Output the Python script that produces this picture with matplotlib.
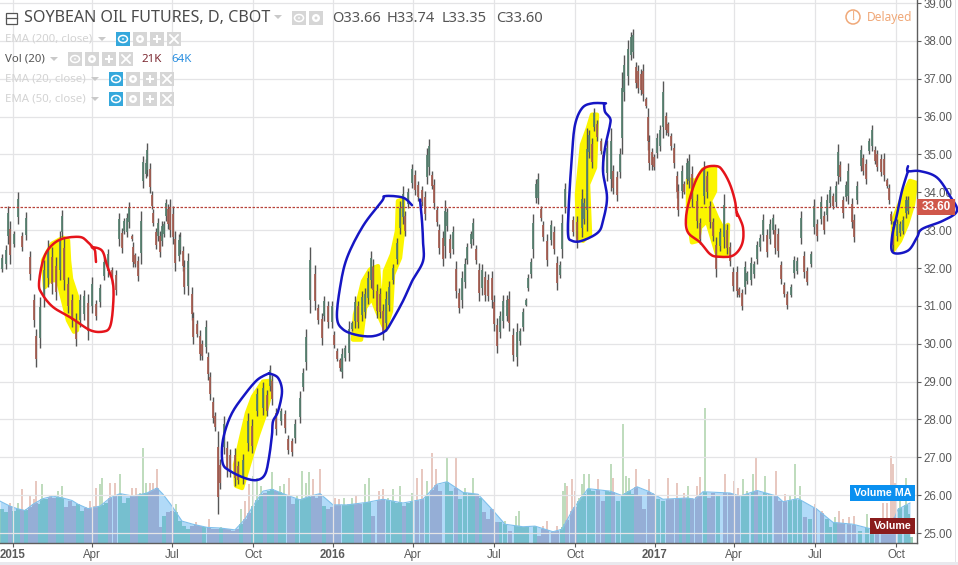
import numpy as np
import matplotlib
matplotlib.use("Agg")
import matplotlib.pyplot as plt
from matplotlib.patches import Rectangle, Circle, Polygon

W, H = 958, 565
AX_W, AX_H = 917, 543

# time axis: arbitrary session clock, quarter ticks
tick_t = [13, 92, 172, 253, 333, 413, 494, 575, 655, 734, 815, 896]
tick_labels = ["2015", "Apr", "Jul", "Oct", "2016", "Apr", "Jul", "Oct", "2017", "Apr", "Jul", "Oct"]
price_ticks = [25, 26, 27, 28, 29, 30, 31, 32, 33, 34, 35, 36, 37, 38, 39]
last_price = 33.60

bar_t = [
 2,6,8,10,14,18,22,26,30,34,36,40,
 44,48,52,56,60,62,64,68,72,76,80,84,
 88,92,96,100,104,108,112,116,119,122,124,127,
 129,132,133,135,138,141,143,146,147,150,152,153,
 156,158,160,162,164,166,168,170,173,175,179,180,
 183,184,188,192,193,197,200,202,206,208,210,213,
 215,218,220,224,227,230,235,238,243,248,252,257,
 263,267,270,272,276,281,285,288,292,295,300,303,
 306,310,315,318,322,324,328,332,334,337,340,342,
 345,349,352,355,358,362,365,368,371,373,377,380,
 383,386,389,393,397,400,403,405,408,412,415,418,
 422,425,427,429,432,434,437,439,443,445,447,450,
 453,456,459,462,465,467,471,473,476,479,482,485,
 488,492,494,497,500,503,507,509,513,517,520,523,
 526,528,531,533,536,538,541,543,547,551,554,557,
 560,562,565,568,573,577,582,584,587,589,592,594,
 597,601,603,607,611,613,617,620,622,624,628,631,
 633,636,638,641,643,646,648,649,652,654,657,660,
 663,666,668,671,674,677,678,682,684,687,689,692,
 697,700,704,707,710,713,716,720,724,727,730,733,
 737,739,742,745,747,751,754,757,760,763,767,770,
 773,775,778,781,784,787,791,794,797,801,804,807,
 811,814,817,821,824,827,830,833,836,838,840,843,
 846,848,852,854,857,861,863,866,869,872,875,877,
 881,884,887,889,891,893,897,900,903,906,908]
bar_high = [
 32.36,32.6,33.65,33.25,32.99,34.0,32.95,33.47,32.46,31.32,30.4,31.24,
 32.2,32.73,32.55,32.29,32.99,33.52,32.82,31.76,31.32,30.8,31.32,31.41,
 31.32,31.76,31.15,31.59,32.29,32.51,32.03,31.94,33.46,33.07,33.33,33.46,
 33.75,32.89,32.68,32.41,32.32,33.51,34.96,34.87,35.29,34.78,34.04,33.55,
 33.07,33.32,32.98,33.25,33.25,33.83,33.68,33.82,33.64,32.98,32.89,32.94,
 32.59,32.2,32.4,31.5,30.84,30.62,30.36,30.1,30.62,29.79,29.26,28.6,
 28.2,27.7,26.95,28.08,27.43,27.21,27.25,26.9,27.08,28.17,28.0,28.83,
 29.0,28.78,29.45,29.17,28.3,28.3,28.26,27.6,27.52,28.0,28.74,29.35,
 30.4,32.55,32.07,31.06,30.82,31.26,31.13,31.13,30.33,29.89,29.63,29.89,
 29.98,30.6,30.6,31.26,31.13,31.39,31.48,31.92,32.45,32.23,31.57,31.48,
 31.04,31.39,31.65,32.1,32.8,33.77,34.16,33.5,34.12,34.74,34.6,34.3,
 34.16,34.03,35.18,35.42,34.56,34.34,33.64,33.15,32.98,33.81,33.59,32.89,
 33.11,32.18,31.48,31.92,32.27,32.67,32.98,33.33,32.62,32.14,32.1,31.92,
 31.83,31.92,31.3,30.69,30.86,31.3,31.3,31.39,30.42,30.55,30.42,30.95,
 31.21,31.83,32.27,33.42,34.34,34.52,33.64,33.24,32.89,33.28,33.11,32.32,
 32.18,33.42,34.25,33.59,33.38,33.38,34.08,33.86,35.7,35.65,35.43,36.22,
 35.92,35.43,35.08,35.39,35.7,34.73,34.56,35.17,37.19,37.62,38.02,38.24,
 38.32,37.45,37.36,37.27,37.4,36.53,36.22,35.52,35.17,35.0,35.57,35.78,
 36.94,36.13,35.87,35.57,35.3,34.56,34.21,34.73,34.3,34.91,35.0,34.69,
 33.95,33.33,34.82,34.56,33.77,33.33,32.81,33.07,33.95,33.16,32.68,32.02,
 32.06,31.49,31.45,32.19,31.93,32.28,32.19,32.72,32.89,33.42,33.03,33.29,
 33.42,33.16,33.07,32.19,31.62,31.4,31.58,32.32,32.28,33.51,32.46,32.02,
 32.46,33.82,33.29,33.9,33.51,33.95,34.17,33.99,34.3,35.28,34.82,33.9,
 34.3,34.78,33.86,33.42,34.3,35.26,35.0,34.87,35.44,35.77,35.22,35.13,
 35.0,35.04,34.39,34.21,33.51,33.25,33.29,33.25,33.38,33.9,33.9]
bar_low = [
 31.89,31.98,32.64,32.11,32.55,33.17,32.46,32.73,31.68,30.45,29.39,29.88,
 30.97,31.5,31.32,31.15,31.68,32.82,31.41,30.8,30.45,29.95,30.45,30.62,
 30.1,30.8,30.62,30.97,31.68,31.76,31.59,31.28,32.59,32.41,32.89,32.81,
 33.07,32.72,32.02,32.02,31.67,32.11,34.12,34.39,34.43,33.99,33.55,33.11,
 32.5,32.72,32.28,32.59,32.81,33.25,33.03,32.81,32.63,31.93,32.19,32.37,
 31.93,31.32,31.3,30.62,30.0,30.18,29.57,29.57,29.75,29.04,28.52,27.9,
 27.7,25.5,26.16,27.08,26.47,26.47,26.25,26.29,26.29,27.17,27.12,28.08,
 28.13,28.08,28.74,28.39,27.6,27.86,27.65,27.08,27.03,27.38,27.91,28.74,
 29.3,30.8,30.89,30.53,29.98,30.6,30.42,30.42,29.89,29.54,29.28,29.1,
 29.54,29.54,30.33,30.42,30.42,30.6,30.69,31.04,31.48,31.21,30.69,30.69,
 30.11,30.33,30.86,31.57,32.1,32.89,33.15,32.84,33.59,34.12,33.94,33.77,
 33.64,33.28,34.21,34.47,34.08,33.55,33.11,32.36,32.05,32.27,32.98,32.27,
 32.36,31.21,30.82,30.95,31.48,32.1,32.54,32.62,32.1,31.13,31.3,31.13,
 31.13,30.95,30.33,29.76,30.16,30.42,30.6,30.33,29.54,29.41,29.98,30.33,
 30.99,31.39,31.74,32.27,33.72,33.68,33.24,32.71,32.05,32.62,32.36,31.43,
 31.74,32.27,33.46,32.8,32.85,32.54,32.81,33.16,32.98,34.91,34.65,35.61,
 35.35,35.0,34.56,34.3,34.03,33.95,33.77,34.38,35.0,36.4,36.84,37.49,
 37.54,36.75,36.62,36.57,36.4,36.22,35.13,34.6,34.6,34.6,34.91,35.08,
 35.43,35.52,35.48,35.13,34.65,33.86,33.38,33.86,33.95,34.21,34.12,33.6,
 33.07,32.63,33.68,33.86,33.07,32.72,31.76,32.46,32.54,32.37,32.06,31.4,
 31.23,31.23,30.89,31.32,31.58,31.54,31.75,32.11,32.46,32.72,32.28,32.63,
 32.89,32.37,32.28,31.58,31.23,30.92,31.23,31.75,31.84,32.63,31.75,31.54,
 32.02,32.89,32.72,33.16,32.89,33.25,33.6,33.55,33.6,34.21,34.3,33.33,
 33.77,33.68,33.07,32.68,33.68,34.56,34.47,34.21,35.0,35.09,34.74,34.56,
 34.43,34.3,34.12,33.68,33.16,32.46,32.72,32.85,32.89,33.33,33.42]

vol_t = [2,6,10,14,18,22,26,30,34,36,38,42,46,50,54,58,62,66,70,74,78,82,86,90,94,96,100,102,106,110,
 115,120,124,128,132,136,140,143,146,150,153,157,160,164,168,172,176,180,184,188,192,196,200,204,209,213,217,221,225,229,
 233,237,241,245,249,253,257,261,265,269,272,276,280,284,289,293,297,302,306,309,313,317,320,324,328,332,335,339,344,348,
 352,356,360,365,369,373,379,383,388,393,397,400,404,408,412,417,422,427,432,436,440,447,451,456,460,465,470,473,477,
 480,484,488,492,497,500,505,510,516,519,523,527,535,539,543,547,553,557,562,563,565,567,572,575,579,582,584,589,593,598,
 603,607,611,613,618,623,626,629,633,636,640,644,649,653,658,663,668,672,677,681,684,688,692,697,700,705,709,713,718,725,
 730,734,738,743,747,753,756,760,765,770,776,780,785,790,795,800,805,810,815,822,827,830,835,839,843,849,854,860,867,872,
 877,883,887,891,893,895,900,906,908,911]
vol_k = [54,49,64,51,64,86,54,75,70,99,62,94,70,75,72,83,91,57,67,59,62,51,57,67,59,88,94,104,64,96,
 96,110,64,72,88,88,80,152,96,96,96,118,25,43,49,51,62,35,27,22,27,33,27,25,38,22,22,26,23,22,
 20,23,54,67,94,107,104,91,80,83,114,83,91,94,104,62,75,115,96,114,102,72,118,59,54,57,72,70,72,62,
 72,75,62,94,104,43,83,86,72,86,64,91,59,64,80,104,118,99,144,118,83,136,83,136,70,88,80,104,78,
 72,49,38,54,33,33,35,19,43,51,25,27,27,11,27,36,19,27,22,84,96,91,103,83,72,94,110,111,83,102,
 67,83,126,104,67,190,107,104,78,118,75,54,102,80,70,67,104,70,96,72,80,92,72,91,106,216,72,80,75,111,
 80,99,88,102,83,110,138,75,107,78,115,67,78,75,126,91,41,38,62,51,38,25,41,52,38,41,43,19,46,19,
 19,64,64,139,126,96,67,104,46,9]
# sessions whose volume bar is clearly green or red in the picture
vol_green = [58,62,102,106,120,143,184,272,284,302,309,447,565,589,623,626,705,753,765,795,906]
vol_red = [36,90,115,157,245,293,332,360,417,432,456,478,598,644,668,700,725,756,776,891,893,895]

ma_t = [0,10,17,25,33,43,53,63,72,78,88,100,110,120,133,147,157,163,172,182,193,207,220,235,245,253,263,272,283,300,
 310,320,333,347,367,383,403,423,437,447,463,478,492,505,523,535,553,562,573,588,610,622,637,648,663,687,695,703,730,740,
 757,777,783,798,817,833,853,870,890,898,910]
ma_k = [67,59,55,52,62,71,75,72,68,62,55,59,72,79,75,80,88,78,59,35,30,25,24,21,38,59,83,86,79,69,
 75,79,61,61,65,70,64,70,94,98,81,78,54,30,26,27,18,22,54,87,83,76,90,83,70,72,70,82,80,75,
 84,75,66,71,54,33,30,23,22,54,64]

# hand-drawn marks on the chart: (time, price) pairs
yellow_marks = [
 [(43,32.2),(52,32.64),(63,32.8),(68,32.73),(69,32.2),(71,31.72),(77,31.24),(78,30.8),(77,30.36),(74,30.32),(68,30.62),(63,31.15),(58,31.68),(50,31.68),(45,31.5)],
 [(270,29.02),(263,29.0),(253,28.6),(247,28.17),(241,27.5),(235,26.8),(236,26.25),(242,26.19),(246,26.55),(252,27.08),(258,27.6),(265,28.13),(270,28.65)],
 [(353,30.11),(355,30.77),(363,31.65),(370,31.96),(378,32.05),(380,31.3),(383,30.95),(385,31.92),(392,32.36),(397,32.98),(398,33.77),(403,33.81),(403,32.98),(400,32.27),(393,31.83),(391,30.86),(385,30.38),(377,30.86),(372,31.21),(365,30.95),(361,30.11)],
 [(578,32.81),(577,33.95),(582,35.26),(588,35.7),(592,36.05),(597,36.05),(595,34.65),(588,34.21),(590,32.9),(583,32.72)],
 [(688,34.34),(696,34.3),(703,34.6),(715,34.65),(715,34.03),(710,33.77),(717,33.33),(723,33.03),(728,33.14),(727,32.37),(717,32.37),(707,33.25),(700,33.07),(698,32.72),(692,32.68),(688,33.42)],
 [(893,32.46),(893,33.25),(902,33.86),(910,34.3),(916,34.25),(913,33.68),(907,33.16),(900,32.72)],
]
red_marks = [
 [(96,32.16),(95,32.46),(92,32.55),(102,32.46),(107,32.07),(113,31.59),(113,30.97),(110,30.45),(103,30.32),(90,30.36),(72,30.67),(53,30.97),(42,31.32),(39,31.59),(43,32.2),(50,32.55),(62,32.77),(80,32.82),(88,32.68),(93,32.54)],
 [(737,33.38),(735,33.77),(730,34.21),(723,34.56),(717,34.69),(705,34.65),(697,34.38),(690,33.86),(686,33.33),(688,32.94),(700,32.68),(710,32.37),(718,32.3),(733,32.33),(742,32.63),(743,33.07),(737,33.46)],
]
blue_marks = [
 [(269,29.22),(278,29.1),(282,28.74),(278,28.21),(273,27.95),(272,27.6),(269,26.99),(265,26.55),(257,26.4),(245,26.45),(230,26.64),(223,26.82),(222,27.25),(225,27.69),(232,28.17),(243,28.6),(257,29.04),(269,29.22)],
 [(412,33.66),(403,33.86),(385,33.9),(382,33.77),(363,33.11),(347,32.27),(340,31.48),(337,30.69),(343,30.38),(357,30.23),(373,30.2),(385,30.33),(392,30.6),(403,31.13),(412,31.65),(423,32.18),(423,32.71),(422,33.24),(420,33.81)],
 [(606,36.35),(592,36.35),(582,36.22),(575,35.78),(572,35.0),(569,33.77),(568,32.9),(572,32.72),(582,32.72),(598,32.94),(603,33.25),(607,33.86),(603,34.56),(605,35.17),(610,35.78),(610,35.96),(605,36.13),(604,36.35)],
 [(908,34.69),(908,34.56),(920,34.56),(937,34.39),(950,33.9),(957,33.51),(943,33.25),(922,33.03),(917,32.81),(908,32.46),(893,32.41),(892,32.81),(897,33.42),(902,34.04),(908,34.56)],
]

FONT = "Liberation Sans"
UI = "Noto Sans"
GRID = "#e4e4e6"
AXC = "#5d5d5d"
TXT = "#5a5a5a"

fig = plt.figure(figsize=(W / 100, H / 100), dpi=100, facecolor="white")
ax2 = fig.add_axes([0, 1 - AX_H / H, AX_W / W, AX_H / H])
ax = fig.add_axes([0, 1 - AX_H / H, AX_W / W, AX_H / H], sharex=ax2)
ax.set_zorder(2); ax.patch.set_visible(False)
ax2.set_zorder(1)

ax.set_xlim(0, AX_W)
ax.set_ylim(24.737, 39.08)
ax2.set_ylim(0, 869)
ax2.axis("off")

ax.set_xticks(tick_t)
ax.set_xticklabels(tick_labels)
ax.set_yticks(price_ticks)
ax.set_yticklabels([f"{p:.2f}" for p in price_ticks])
ax.yaxis.tick_right()
ax.grid(True, color=GRID, lw=0.9, zorder=0)
ax.set_axisbelow(True)
ax.tick_params(axis="both", length=3.2, width=0.8, color=AXC, labelcolor=TXT, labelsize=8.3, pad=1.2)
for lbl in ax.get_xticklabels() + ax.get_yticklabels():
    lbl.set_fontfamily(FONT)
for i in (0, 4, 8):
    ax.get_xticklabels()[i].set_fontweight("bold")
for s in ("top", "left"):
    ax.spines[s].set_visible(False)
for s in ("right", "bottom"):
    ax.spines[s].set_color(AXC); ax.spines[s].set_linewidth(1.0)


def smooth(points, n=8):
    pts = np.array(points, float)
    p = np.vstack([pts[0], pts, pts[-1]])
    out = []
    for i in range(1, len(p) - 2):
        for u in np.linspace(0, 1, n, endpoint=False):
            out.append(0.5 * ((2 * p[i]) + (-p[i - 1] + p[i + 1]) * u
                              + (2 * p[i - 1] - 5 * p[i] + 4 * p[i + 1] - p[i + 2]) * u ** 2
                              + (-p[i - 1] + 3 * p[i] - 3 * p[i + 1] + p[i + 2]) * u ** 3))
    out.append(p[-2])
    return np.array(out)


# volume
t = np.array(bar_t, float); hi = np.array(bar_high); lo = np.array(bar_low)
mid = (hi + lo) / 2
up = np.r_[True, mid[1:] >= mid[:-1]]
vt = np.array(vol_t, float)
vk = np.array(vol_k, float)
vup = up[np.clip(np.searchsorted(t, vt), 0, len(t) - 1)]
vup[np.isin(vt, vol_green)] = True
vup[np.isin(vt, vol_red)] = False
vcap = np.minimum(vk, np.interp(vt, ma_t, ma_k))
# pale full-height spike
ax2.bar(vt[vup], vk[vup], width=1.7, color="#bfdcbd", lw=0, zorder=2)
ax2.bar(vt[~vup], vk[~vup], width=1.7, color="#e8c8c0", lw=0, zorder=2)
# denser tone under the average
ax2.bar(vt[vup], vcap[vup], width=3.4, color="#9ad0b8", lw=0, zorder=2.2)
ax2.bar(vt[~vup], vcap[~vup], width=3.4, color="#cfb4c4", lw=0, zorder=2.2)
ax2.fill_between(ma_t, 0, ma_k, color="#45a8f0", alpha=0.42, lw=0, zorder=3)
ax2.plot(ma_t, ma_k, color="#7fc0ec", lw=0.8, zorder=3)

# highlighter
for poly in yellow_marks:
    ax.add_patch(Polygon(poly, closed=True, fc="#fbf500", ec="#fbf500", lw=3.2, joinstyle="round", zorder=1.5))

# price bars
up_c, dn_c = "#55806f", "#a65c50"
cols = np.where(up, up_c, dn_c)
ax.vlines(t, lo, hi, colors="#565656", lw=1.0, zorder=2)
ax.vlines(t, lo + (hi - lo) * 0.2, hi - (hi - lo) * 0.2, colors=list(cols), lw=1.25, zorder=2.1)

ax.axhline(last_price, color="#b8433a", lw=0.9, ls=(0, (2, 1.2)), zorder=2.5)

# pen strokes
for marks, c in ((red_marks, "#e5141b"), (blue_marks, "#1616c4")):
    for m in marks:
        s = smooth(m)
        ax.plot(s[:, 0], s[:, 1], color=c, lw=1.8, solid_capstyle="round", solid_joinstyle="round",
                clip_on=False, zorder=6)


# interface furniture, placed in figure pixels
def fx(x): return x / W
def fy(y): return 1 - y / H

def rect(x0, y0, x1, y1, c, z=5, ec="none", lw=0):
    fig.add_artist(Rectangle((fx(x0), fy(y1)), (x1 - x0) / W, (y1 - y0) / H, transform=fig.transFigure,
                             fc=c, ec=ec, lw=lw, zorder=z))

def label(x, y, s, c, size, family=UI, weight="normal", ha="left", z=8):
    fig.text(fx(x), fy(y), s, color=c, fontsize=size, family=family, fontweight=weight, ha=ha, va="center", zorder=z)

def caret(x, y, c="#c9c9c9"):
    fig.add_artist(Polygon([(fx(x - 4), fy(y - 2)), (fx(x + 4), fy(y - 2)), (fx(x), fy(y + 2))],
                           transform=fig.transFigure, fc=c, ec="none", zorder=7))

def icons(x, y, eye=False, n=4):
    cx = x
    for i in range(n):
        rect(cx, y - 7, cx + 14, y + 7, "#35a8dc" if (eye and i == 0) else "#d6d6d6", z=7)
        cxx = cx + 7
        if i == 0:
            fig.add_artist(matplotlib.patches.Ellipse((fx(cxx), fy(y)), 9 / W, 7 / H, transform=fig.transFigure,
                                                      fc="none", ec="white", lw=1.1, zorder=8))
            fig.add_artist(Circle((fx(cxx), fy(y)), 1.2 / W, transform=fig.transFigure, fc="white", zorder=8))
        elif i == 1:
            fig.add_artist(matplotlib.patches.Ellipse((fx(cxx), fy(y)), 8 / W, 8 / H, transform=fig.transFigure,
                                                      fc="white", ec="none", zorder=8))
            fig.add_artist(matplotlib.patches.Ellipse((fx(cxx), fy(y)), 3 / W, 3 / H, transform=fig.transFigure,
                                                      fc="#d6d6d6", ec="none", zorder=8))
        elif i == 2:
            rect(cx + 3, y - 1, cx + 11, y + 1, "white", z=8); rect(cx + 6, y - 4, cx + 8, y + 4, "white", z=8)
        else:
            for a, b in ((-4, 4), (4, -4)):
                fig.add_artist(plt.Line2D([fx(cxx - 4), fx(cxx + 4)], [fy(y + a), fy(y + b)], color="white", lw=1.3,
                                          transform=fig.transFigure, zorder=8))
        cx += 17

# title row
fig.add_artist(Rectangle((fx(5.5), fy(23.5)), 11 / W, 11 / H, transform=fig.transFigure, fc="white", ec="#555555", lw=0.9, zorder=7))
fig.add_artist(plt.Line2D([fx(6), fx(17)], [fy(18), fy(18)], color="#555555", lw=0.9, transform=fig.transFigure, zorder=8))
label(24, 17.5, "SOYBEAN OIL FUTURES, D, CBOT", "#4b4b4b", 11.6)
caret(278, 17)
icons(292, 18, n=2)
label(332, 18, "O33.66", "#555555", 10.6)
label(387, 18, "H33.74", "#555555", 10.6)
label(442, 18, "L33.35", "#555555", 10.6)
label(496, 18, "C33.60", "#555555", 10.6)

# Study rows
label(5, 39, "EMA (200, close)", "#d3d3d3", 8.25)
caret(102, 39); icons(116, 39, eye=True)
label(5, 59, "Vol (20)", "#555555", 8.25)
caret(54, 59); icons(68, 59)
label(141, 59, "21K", "#7d2a33", 8.25)
label(171, 59, "64K", "#2b8fe0", 8.25)
label(5, 79, "EMA (20, close)", "#d3d3d3", 8.25)
caret(95, 79); icons(109, 79, eye=True)
label(5, 99, "EMA (50, close)", "#d3d3d3", 8.25)
caret(95, 99); icons(109, 99, eye=True)

# delayed marker
fig.add_artist(matplotlib.patches.Ellipse((fx(853), fy(17)), 14 / W, 14 / H, transform=fig.transFigure, fc="white", ec="#f0a878", lw=1.1, zorder=7))
label(853, 16.5, "!", "#f0a878", 8.5, ha="center")
label(867, 17, "Delayed", "#f0a878", 8.6)

# price and study tags
rect(917, 199, 955, 215, "#d0574a", z=5)
label(936, 207, "33.60", "white", 8.5, family=FONT, weight="bold", ha="center", z=5.5)
rect(850, 485, 915, 501, "#0a90f0", z=7)
label(882.5, 493.3, "Volume MA", "white", 7.7, family=FONT, weight="bold", ha="center")
rect(870, 518, 915, 534, "#8a1c1c", z=7)
label(892.5, 526.3, "Volume", "white", 7.7, family=FONT, weight="bold", ha="center")

# screenshot frame
rect(0, 562, W, H, "#e9e9ee", z=1)
rect(955, 0, 956, 562, "#e4e4e8", z=1)

fig.savefig("out.png", dpi=100)
